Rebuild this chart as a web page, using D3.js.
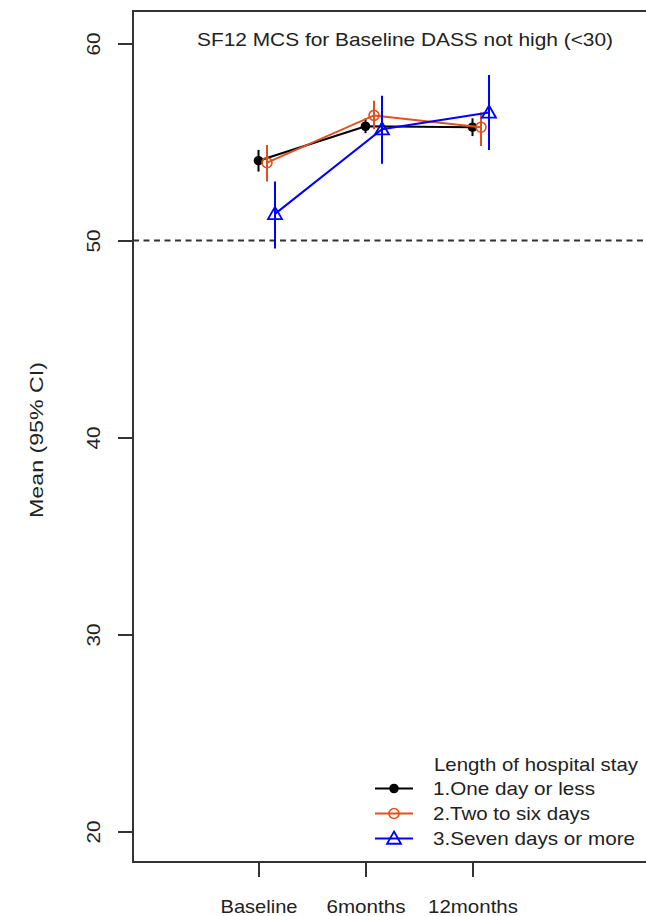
<!DOCTYPE html>
<html>
<head>
<meta charset="utf-8">
<script src="https://cdn.jsdelivr.net/npm/d3@7"></script>
<style>
  html, body { margin: 0; padding: 0; background: #fff; }
  svg { display: block; font-family: "Liberation Sans", Arial, sans-serif; }
</style>
</head>
<body>
<svg id="chart" width="646" height="916"></svg>
<script>
// Time points on the x axis
const timepoints = ["Baseline", "6months", "12months"];
// Y axis ticks
const yTicks = [20, 30, 40, 50, 60];

// Group names (legend) and styles
const groups = ["1.One day or less", "2.Two to six days", "3.Seven days or more"];
const groupColors = ["#000000", "#E0501E", "#0000FF"];
const groupSymbols = ["dot", "circle", "triangle"];

// Means and 95% CI per group, per timepoint
const meanOneDay   = [54.05, 55.80, 55.75];
const lowerOneDay  = [53.50, 55.45, 55.30];
const upperOneDay  = [54.60, 56.20, 56.20];

const meanTwoSix   = [53.95, 56.35, 55.75];
const lowerTwoSix  = [53.00, 55.65, 54.80];
const upperTwoSix  = [54.85, 57.10, 56.50];

const meanSeven    = [51.35, 55.65, 56.50];
const lowerSeven   = [49.60, 53.90, 54.60];
const upperSeven   = [53.00, 57.35, 58.40];

const series = [
  { mean: meanOneDay, lower: lowerOneDay, upper: upperOneDay },
  { mean: meanTwoSix, lower: lowerTwoSix, upper: upperTwoSix },
  { mean: meanSeven,  lower: lowerSeven,  upper: upperSeven }
];
const referenceLine = 50;

const svg = d3.select("#chart");
const W = 646;
const plotLeft = 133, plotTop = 11, plotBottom = 862;
const fontSize = 18.5;
const textColor = "#222";

const x = d3.scalePoint().domain(timepoints).range([258.5, 472.5]);
const y = d3.scaleLinear().domain([20, 60]).range([831.5, 43.5]);
// small horizontal dodge so groups don't overlap
const dodge = [0, 8.5, 16.5];

const axisColor = "#333";

// wide text: stretch each label to its set width
function wide(sel, len) {
  sel.attr("textLength", len).attr("lengthAdjust", "spacingAndGlyphs");
  return sel;
}

// plot frame: top, left, bottom
svg.append("path")
  .attr("d", `M${W},${plotTop}H${plotLeft}V${plotBottom}H${W}`)
  .attr("fill", "none").attr("stroke", axisColor).attr("stroke-width", 2);

// y axis
const yAxis = svg.append("g").attr("transform", `translate(${plotLeft},0)`)
  .call(d3.axisLeft(y).tickValues(yTicks).tickSize(15).tickPadding(0).tickFormat(d3.format("d")));
yAxis.select(".domain").remove();
yAxis.selectAll(".tick line").attr("stroke", axisColor).attr("stroke-width", 2);
yAxis.selectAll(".tick text")
  .attr("fill", textColor).attr("font-size", fontSize)
  .attr("transform", "translate(-33,0) rotate(-90)")
  .attr("x", 0).attr("dy", 0).attr("text-anchor", "middle")
  .call(wide, 23);

// x axis
const xAxis = svg.append("g").attr("transform", `translate(0,${plotBottom})`)
  .call(d3.axisBottom(x).tickSize(15).tickPadding(0));
xAxis.select(".domain").remove();
xAxis.selectAll(".tick line").attr("stroke", axisColor).attr("stroke-width", 2);
const xLabelWidths = [77, 79, 90];
xAxis.selectAll(".tick text")
  .attr("fill", textColor).attr("font-size", fontSize)
  .attr("y", 51).attr("dy", 0)
  .each(function (d, i) { wide(d3.select(this), xLabelWidths[i]); });

// dashed reference line
svg.append("line")
  .attr("x1", plotLeft).attr("x2", W)
  .attr("y1", y(referenceLine)).attr("y2", y(referenceLine))
  .attr("stroke", "#333").attr("stroke-width", 2).attr("stroke-dasharray", "6,4.5");

// title
svg.append("text")
  .attr("x", 405).attr("y", 45.5).attr("text-anchor", "middle")
  .attr("font-size", fontSize).attr("fill", textColor)
  .text("SF12 MCS for Baseline DASS not high (<30)")
  .call(wide, 416);

// y label
svg.append("text")
  .attr("transform", "translate(43,440) rotate(-90)")
  .attr("text-anchor", "middle").attr("font-size", fontSize).attr("fill", textColor)
  .text("Mean (95% CI)")
  .call(wide, 156);

function drawSymbol(g, type, cx, cy, color) {
  if (type === "dot") {
    g.append("circle").attr("cx", cx).attr("cy", cy).attr("r", 4.8).attr("fill", color);
  } else if (type === "circle") {
    g.append("circle").attr("cx", cx).attr("cy", cy).attr("r", 5).attr("fill", "none")
      .attr("stroke", color).attr("stroke-width", 1.6);
  } else {
    const s = 7;
    g.append("path")
      .attr("d", `M${cx},${cy - s}L${cx + s},${cy + s * 0.75}L${cx - s},${cy + s * 0.75}Z`)
      .attr("fill", "none").attr("stroke", color).attr("stroke-width", 1.8);
  }
}

const line = d3.line();
series.forEach((s, gi) => {
  const g = svg.append("g");
  const color = groupColors[gi];
  const pts = timepoints.map((t, i) => [x(t) + dodge[gi], y(s.mean[i])]);
  g.append("path").attr("d", line(pts)).attr("fill", "none")
    .attr("stroke", color).attr("stroke-width", 2);
  timepoints.forEach((t, i) => {
    g.append("line")
      .attr("x1", x(t) + dodge[gi]).attr("x2", x(t) + dodge[gi])
      .attr("y1", y(s.lower[i])).attr("y2", y(s.upper[i]))
      .attr("stroke", color).attr("stroke-width", 2);
    drawSymbol(g, groupSymbols[gi], x(t) + dodge[gi], y(s.mean[i]), color);
  });
});

// legend
const legend = svg.append("g");
legend.append("text").attr("x", 434).attr("y", 771).attr("font-size", fontSize).attr("fill", textColor)
  .text("Length of hospital stay")
  .call(wide, 204);
const legendWidths = [162, 157, 202];
groups.forEach((name, i) => {
  const cy = 788.5 + i * 25;
  legend.append("line").attr("x1", 375).attr("x2", 413).attr("y1", cy).attr("y2", cy)
    .attr("stroke", groupColors[i]).attr("stroke-width", 2);
  drawSymbol(legend, groupSymbols[i], 394, cy, groupColors[i]);
  legend.append("text").attr("x", 433).attr("y", cy + 6.5).attr("font-size", fontSize).attr("fill", textColor)
    .text(name)
    .call(wide, legendWidths[i]);
});
</script>
</body>
</html>
